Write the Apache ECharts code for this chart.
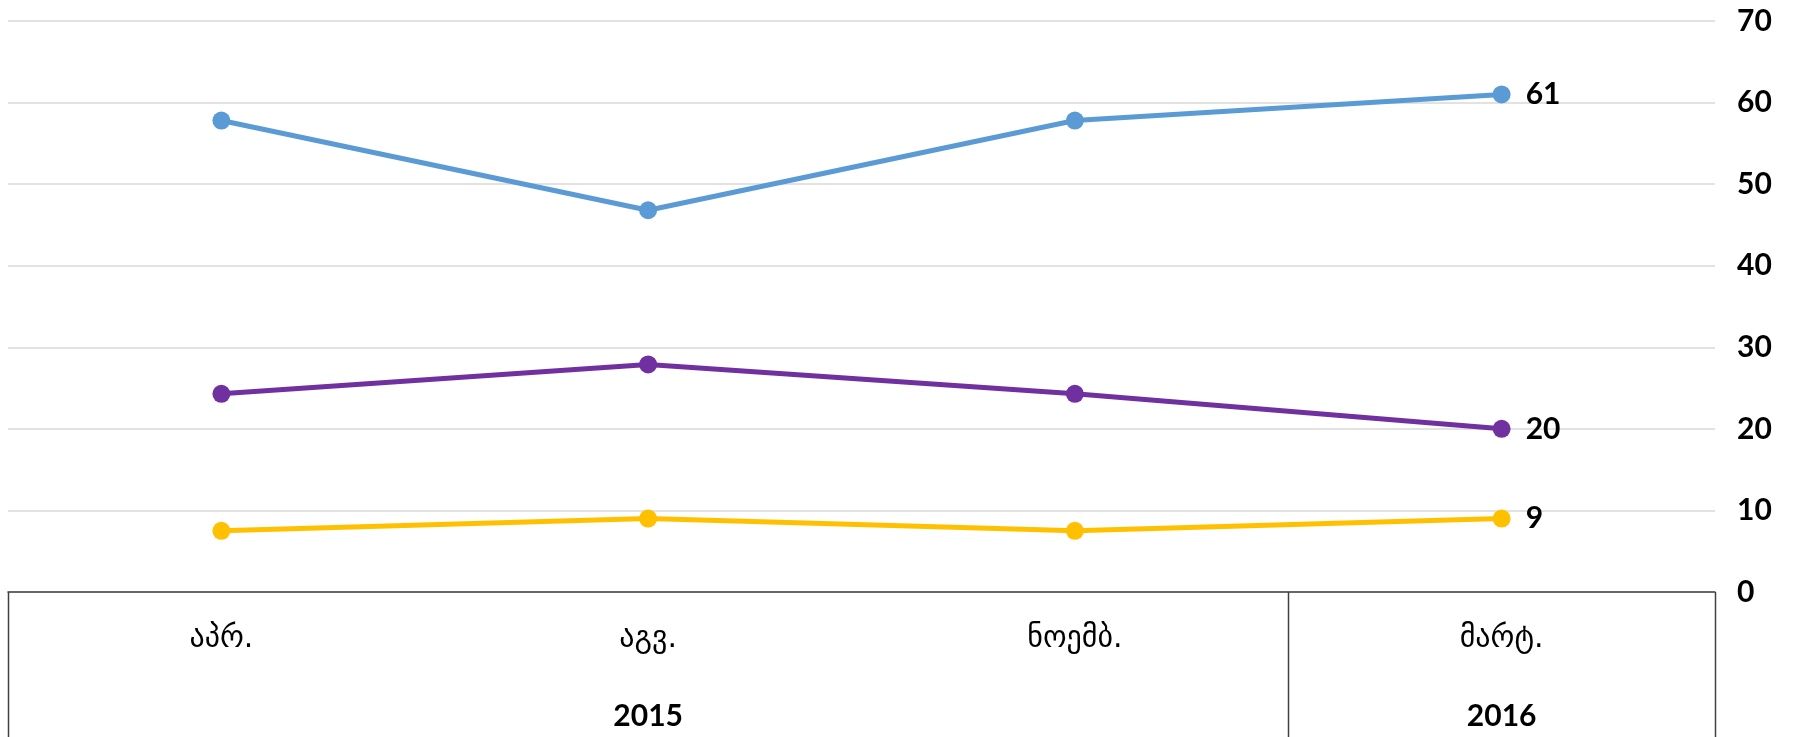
<!DOCTYPE html>
<html>
<head>
<meta charset="utf-8">
<script src="https://cdn.jsdelivr.net/npm/echarts@6/dist/echarts.min.js"></script>
<style>
  html, body { margin: 0; padding: 0; background: #fff; }
  #chart { width: 1802px; height: 737px; }
</style>
</head>
<body>
<div id="chart"></div>
<script>
// Survey months and the year each belongs to
const months = ['აპრ.', 'აგვ.', 'ნოემბ.', 'მარტ.'];
const years = [
  { label: '2015', from: 0, to: 2 },
  { label: '2016', from: 3, to: 3 }
];

// Series values (%)
const blueValues = [57.8, 46.8, 57.8, 61];
const purpleValues = [24.3, 27.9, 24.3, 20];
const yellowValues = [7.5, 9, 7.5, 9];

// Value axis ticks
const yMin = 0, yMax = 70, yStep = 10;

const numFont = 'Lato, "Open Sans", "DejaVu Sans", sans-serif';
const geoFont = '"DejaVu Sans", sans-serif';

function lineSeries(name, values, color) {
  return {
    name: name,
    type: 'line',
    data: values,
    symbol: 'circle',
    symbolSize: 18,
    lineStyle: { color: color, width: 5 },
    itemStyle: { color: color },
    label: {
      show: true,
      position: 'right',
      distance: 15,
      fontFamily: numFont,
      fontWeight: 'bold',
      fontSize: 30,
      color: '#000',
      // only the latest wave is labelled
      formatter: p => p.dataIndex === values.length - 1 ? String(p.value) : ''
    },
    emphasis: { disabled: true },
    animation: false
  };
}

const chart = echarts.init(document.getElementById('chart'));
chart.setOption({
  backgroundColor: '#fff',
  animation: false,
  grid: { left: 8, right: 87, top: 21, bottom: 145 },
  xAxis: {
    type: 'category',
    data: months,
    boundaryGap: true,
    axisLine: { show: true, lineStyle: { color: '#404040', width: 1.5 } },
    axisTick: { show: false },
    axisLabel: {
      margin: 32,
      fontFamily: geoFont,
      fontSize: 30,
      color: '#000'
    }
  },
  yAxis: {
    type: 'value',
    position: 'right',
    min: yMin,
    max: yMax,
    interval: yStep,
    axisLine: { show: false },
    axisTick: { show: false },
    splitLine: { lineStyle: { color: '#d9d9d9', width: 1.5 } },
    axisLabel: {
      margin: 22,
      fontFamily: numFont,
      fontWeight: 'bold',
      fontSize: 30,
      color: '#000'
    }
  },
  series: [
    lineSeries('blue', blueValues, '#5B9BD5'),
    lineSeries('purple', purpleValues, '#7030A0'),
    lineSeries('yellow', yellowValues, '#FFC000')
  ]
});

// Table below the axis: group dividers and year captions
function drawTable() {
  const px = i => chart.convertToPixel({ xAxisIndex: 0 }, i);
  const y0 = chart.convertToPixel({ yAxisIndex: 0 }, yMin);
  const half = (px(1) - px(0)) / 2;
  const bottom = 737;
  const elements = [];
  const edges = new Set();
  years.forEach(g => {
    edges.add(Math.round(px(g.from) - half) + 0.5);
    edges.add(Math.round(px(g.to) + half) + 0.5);
  });
  edges.forEach(x => {
    elements.push({
      type: 'line',
      shape: { x1: x, y1: y0, x2: x, y2: bottom },
      style: { stroke: '#404040', lineWidth: 1.5 },
      silent: true
    });
  });
  years.forEach(g => {
    const cx = ((px(g.from) - half) + (px(g.to) + half)) / 2;
    elements.push({
      type: 'text',
      x: cx,
      y: y0 + 124,
      style: {
        text: g.label,
        align: 'center',
        verticalAlign: 'middle',
        font: 'bold 30px ' + numFont,
        fill: '#000'
      },
      silent: true
    });
  });
  chart.setOption({ graphic: elements });
}
drawTable();
</script>
</body>
</html>
